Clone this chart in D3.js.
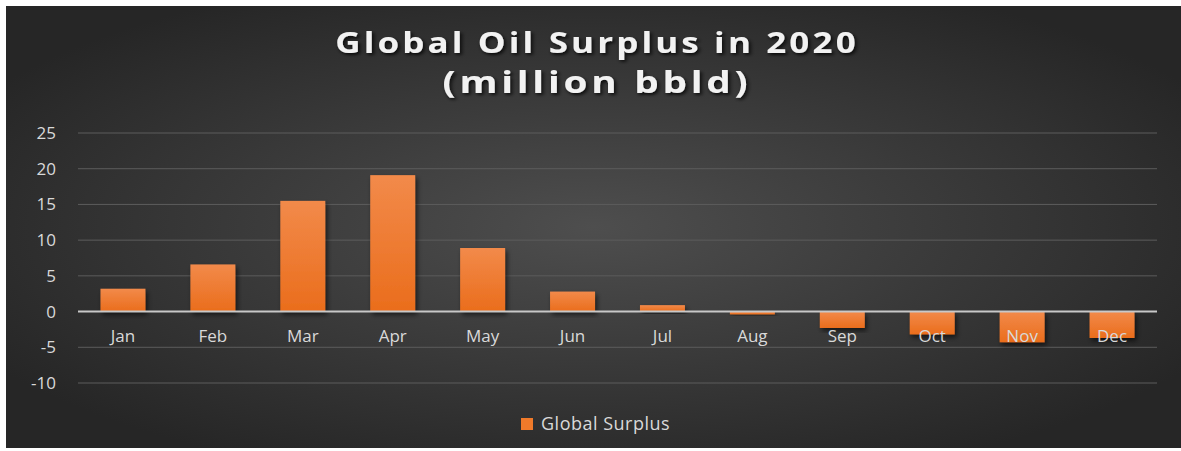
<!DOCTYPE html>
<html>
<head>
<meta charset="utf-8">
<script src="https://cdn.jsdelivr.net/npm/d3@7"></script>
<style>
  html, body { margin: 0; padding: 0; background: #ffffff; }
  svg { display: block; }
</style>
</head>
<body>
<svg id="chart" width="1181" height="451"></svg>
<script>
// Monthly global oil surplus, 2020 (million barrels per day)
const months = ["Jan", "Feb", "Mar", "Apr", "May", "Jun", "Jul", "Aug", "Sep", "Oct", "Nov", "Dec"];
const surplus = [3.2, 6.6, 15.5, 19.1, 8.9, 2.8, 0.9, -0.4, -2.3, -3.2, -4.3, -3.7];
const yTicks = [25, 20, 15, 10, 5, 0, -5, -10];
const titleLines = ["Global Oil Surplus in 2020", "(million bbld)"];
const seriesName = "Global Surplus";

const data = months.map((m, i) => ({ month: m, value: surplus[i] }));

const W = 1181, H = 451;
const svg = d3.select("#chart");
const defs = svg.append("defs");

// Background radial gradient
const bg = defs.append("radialGradient").attr("id", "bg")
  .attr("cx", "50%").attr("cy", "50%").attr("r", "60%");
bg.append("stop").attr("offset", "0%").attr("stop-color", "#4e4e4e");
bg.append("stop").attr("offset", "100%").attr("stop-color", "#262626");

// Bar fill gradient
const barG = defs.append("linearGradient").attr("id", "barFill")
  .attr("x1", 0).attr("y1", 0).attr("x2", 0).attr("y2", 1);
barG.append("stop").attr("offset", "0%").attr("stop-color", "#f28a4a");
barG.append("stop").attr("offset", "100%").attr("stop-color", "#ea6d1c");

// Bar drop shadow
const sh = defs.append("filter").attr("id", "shadow")
  .attr("x", "-20%").attr("y", "-20%").attr("width", "150%").attr("height", "150%");
sh.append("feDropShadow").attr("dx", 2).attr("dy", 3).attr("stdDeviation", 2.5)
  .attr("flood-color", "#000").attr("flood-opacity", 0.6);

// Title text shadow
const tsh = defs.append("filter").attr("id", "tshadow")
  .attr("x", "-10%").attr("y", "-30%").attr("width", "120%").attr("height", "160%");
tsh.append("feDropShadow").attr("dx", 1.5).attr("dy", 2).attr("stdDeviation", 1.5)
  .attr("flood-color", "#000").attr("flood-opacity", 0.8);

svg.append("rect").attr("x", 6).attr("y", 6).attr("width", W - 6).attr("height", 442)
  .attr("fill", "url(#bg)");

const plot = { left: 78, right: 1157, top: 133, bottom: 383 };

const x = d3.scaleBand().domain(months).range([plot.left, plot.right]).paddingInner(0.5).paddingOuter(0.25);
const y = d3.scaleLinear().domain([-10, 25]).range([plot.bottom, plot.top]);

const labelFont = "'Open Sans', sans-serif";

// Gridlines
svg.append("g")
  .selectAll("line").data(yTicks.filter(t => t !== 0)).join("line")
  .attr("x1", plot.left).attr("x2", plot.right)
  .attr("y1", d => y(d)).attr("y2", d => y(d))
  .attr("stroke", "#5c5c5c").attr("stroke-width", 1);

// Y axis labels (plain hyphen for negatives)
const yAxis = d3.axisLeft(y).tickValues(yTicks).tickSize(0).tickPadding(0).tickFormat(d => String(d));
const yg = svg.append("g").attr("transform", `translate(${56},0)`).call(yAxis);
yg.select(".domain").remove();
yg.selectAll("text")
  .attr("fill", "#d9d9d9").attr("font-family", labelFont).attr("font-size", 17);

// Bars
svg.append("g").selectAll("rect").data(data).join("rect")
  .attr("x", d => x(d.month))
  .attr("width", x.bandwidth())
  .attr("y", d => y(Math.max(0, d.value)))
  .attr("height", d => Math.abs(y(d.value) - y(0)))
  .attr("fill", "url(#barFill)")
  .attr("filter", "url(#shadow)");

// Zero line
svg.append("line")
  .attr("x1", plot.left).attr("x2", plot.right)
  .attr("y1", y(0)).attr("y2", y(0))
  .attr("stroke", "#c8c8c8").attr("stroke-width", 2);

// Category labels next to the zero axis
const xAxis = d3.axisBottom(x).tickSize(0).tickPadding(0);
const xg = svg.append("g").attr("transform", `translate(0,${y(0) + 18})`).call(xAxis);
xg.select(".domain").remove();
xg.selectAll("text")
  .attr("fill", "#d9d9d9").attr("font-family", labelFont).attr("font-size", 17);

// Title: wide, spaced bold lettering
svg.append("g").attr("filter", "url(#tshadow)")
  .attr("transform", "translate(597,0) scale(1.25,1)")
  .selectAll("text").data(titleLines).join("text")
  .attr("x", 0)
  .attr("y", (d, i) => i === 0 ? 53 : 93)
  .attr("text-anchor", "middle")
  .attr("fill", "#f2f2f2")
  .attr("font-family", labelFont)
  .attr("font-weight", "bold")
  .attr("font-size", (d, i) => i === 0 ? 28 : 31)
  .attr("letter-spacing", (d, i) => i === 0 ? 2.5 : 3)
  .text(d => d);

// Legend
const lg = svg.append("g");
lg.append("rect").attr("x", 521).attr("y", 418).attr("width", 12).attr("height", 12)
  .attr("fill", "#f07a2a");
lg.append("text").attr("x", 541).attr("y", 430)
  .attr("fill", "#d9d9d9").attr("font-family", labelFont).attr("font-size", 18)
  .attr("letter-spacing", 0.5)
  .text(seriesName);
</script>
</body>
</html>
